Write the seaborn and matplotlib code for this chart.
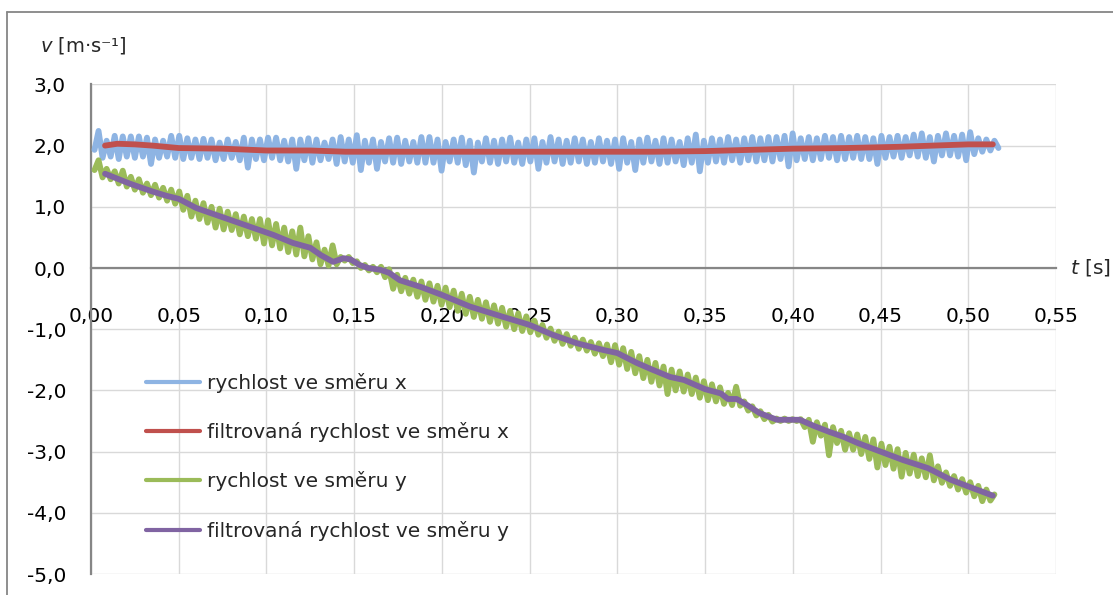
import numpy as np
import matplotlib
matplotlib.use("Agg")
import matplotlib.pyplot as plt
import seaborn as sns
from matplotlib.lines import Line2D

# Raw samples share one uniform time grid [s]
SAMPLE_START = 0.002
SAMPLE_STEP = 0.0023

# Raw velocity in x direction [m/s]
vx_raw = [
    1.93,
    2.24, 1.80, 2.08, 1.82, 2.16, 1.78, 2.15, 1.82, 2.15, 1.80, 2.15, 1.82, 2.13, 1.70, 2.10, 1.80, 2.08, 1.82, 2.16, 1.80, 2.16, 1.78,
    2.12, 1.80, 2.10, 1.78, 2.11, 1.80, 2.10, 1.76, 2.05, 1.78, 2.10, 1.80, 2.06, 1.76, 2.13, 1.64, 2.10, 1.78, 2.10, 1.76,
    2.13, 1.80, 2.13, 1.76, 2.08, 1.74, 2.10, 1.62, 2.10, 1.76, 2.12, 1.72, 2.10, 1.76, 2.05, 1.78, 2.10, 1.70, 2.14, 1.74,
    2.10, 1.72, 2.17, 1.60, 2.08, 1.72, 2.10, 1.62, 2.06, 1.74, 2.12, 1.72, 2.13, 1.70, 2.08, 1.74, 2.06, 1.72, 2.14, 1.72,
    2.14, 1.72, 2.10, 1.59, 2.06, 1.74, 2.10, 1.72, 2.13, 1.68, 2.08, 1.56, 2.05, 1.74, 2.12, 1.72, 2.08, 1.70, 2.10, 1.74,
    2.13, 1.72, 2.05, 1.70, 2.10, 1.74, 2.12, 1.62, 2.06, 1.72, 2.14, 1.74, 2.10, 1.70, 2.08, 1.72, 2.12, 1.74, 2.10, 1.70,
    2.06, 1.72, 2.12, 1.74, 2.08, 1.70, 2.10, 1.62, 2.12, 1.72, 2.06, 1.60, 2.10, 1.72, 2.13, 1.74, 2.08, 1.70, 2.12, 1.72,
    2.10, 1.74, 2.06, 1.68, 2.12, 1.72, 2.18, 1.58, 2.08, 1.72, 2.12, 1.74, 2.10, 1.72, 2.14, 1.76, 2.10, 1.72, 2.12, 1.76,
    2.14, 1.74, 2.12, 1.76, 2.14, 1.74, 2.14, 1.78, 2.16, 1.66, 2.20, 1.76, 2.12, 1.78, 2.14, 1.76, 2.12, 1.78, 2.16, 1.80,
    2.14, 1.76, 2.16, 1.78, 2.14, 1.80, 2.16, 1.78, 2.14, 1.78, 2.12, 1.70, 2.16, 1.80, 2.14, 1.82, 2.16, 1.80, 2.14, 1.84,
    2.18, 1.82, 2.20, 1.80, 2.14, 1.74, 2.16, 1.84, 2.20, 1.84, 2.16, 1.82, 2.18, 1.76, 2.22, 1.86, 2.12, 1.90, 2.10, 1.92,
    2.08, 1.96,
]

# Raw velocity in y direction [m/s]
vy_raw = [
    1.60, 1.76, 1.48, 1.62, 1.45, 1.58, 1.38, 1.59, 1.33, 1.49,
    1.28, 1.45, 1.23, 1.38, 1.19, 1.36, 1.15, 1.31, 1.10, 1.28,
    1.05, 1.25, 0.95, 1.18, 0.84, 1.10, 0.80, 1.06, 0.74, 1.00,
    0.66, 0.97, 0.63, 0.92, 0.62, 0.88, 0.55, 0.84, 0.52, 0.80,
    0.48, 0.80, 0.40, 0.78, 0.37, 0.72, 0.32, 0.66, 0.26, 0.60,
    0.22, 0.66, 0.19, 0.52, 0.14, 0.42, 0.06, 0.30, 0.04, 0.37,
    0.06, 0.18, 0.12, 0.18, 0.08, 0.11, 0.00, 0.05, -0.04, 0.02,
    -0.07, 0.02, -0.15, -0.02, -0.34, -0.11, -0.38, -0.16, -0.42, -0.19,
    -0.47, -0.22, -0.52, -0.25, -0.55, -0.29, -0.60, -0.32, -0.64, -0.37,
    -0.70, -0.42, -0.75, -0.47, -0.80, -0.52, -0.83, -0.56, -0.88, -0.61,
    -0.91, -0.65, -0.96, -0.70, -1.00, -0.74, -1.03, -0.79, -1.05, -0.86,
    -1.09, -0.93, -1.14, -0.99, -1.19, -1.04, -1.24, -1.08, -1.27, -1.14,
    -1.32, -1.17, -1.35, -1.21, -1.40, -1.23, -1.44, -1.25, -1.54, -1.26,
    -1.58, -1.31, -1.65, -1.37, -1.72, -1.44, -1.80, -1.50, -1.86, -1.55,
    -1.92, -1.61, -2.06, -1.66, -2.00, -1.69, -2.02, -1.74, -2.06, -1.79,
    -2.12, -1.85, -2.16, -1.90, -2.18, -1.95, -2.22, -2.04, -2.24, -1.94,
    -2.25, -2.18, -2.33, -2.26, -2.41, -2.34, -2.47, -2.40, -2.51, -2.46,
    -2.50, -2.46, -2.50, -2.47, -2.50, -2.47, -2.60, -2.48, -2.84, -2.52,
    -2.74, -2.56, -3.06, -2.60, -2.86, -2.66, -2.97, -2.70, -2.97, -2.72,
    -3.04, -2.76, -3.12, -2.80, -3.26, -2.87, -3.22, -2.92, -3.28, -2.96,
    -3.41, -3.02, -3.36, -3.05, -3.40, -3.11, -3.42, -3.06, -3.47, -3.24,
    -3.51, -3.34, -3.56, -3.40, -3.62, -3.45, -3.67, -3.50, -3.73, -3.56,
    -3.81, -3.62, -3.80, -3.70,
]

# Filtered velocity in x direction
vx_filt_t = [0.008, 0.015, 0.025, 0.035, 0.050, 0.075, 0.100, 0.125, 0.145, 0.200,
             0.250, 0.290, 0.320, 0.350, 0.375, 0.400, 0.430, 0.460, 0.480, 0.500, 0.514]
vx_filt = [2.00, 2.03, 2.02, 2.00, 1.96, 1.95, 1.92, 1.92, 1.90, 1.90,
           1.90, 1.90, 1.90, 1.91, 1.93, 1.95, 1.96, 1.98, 2.00, 2.02, 2.02]

# Filtered velocity in y direction
vy_filt_t = [0.008, 0.022, 0.035, 0.043, 0.050, 0.060, 0.074, 0.085, 0.096, 0.104,
             0.115, 0.125, 0.131, 0.138, 0.144, 0.148, 0.153, 0.158, 0.165, 0.170,
             0.176, 0.188, 0.200, 0.216, 0.235, 0.250, 0.263, 0.277, 0.292, 0.300,
             0.311, 0.319, 0.330, 0.338, 0.350, 0.359, 0.363, 0.368, 0.374, 0.381,
             0.391, 0.404, 0.412, 0.421, 0.429, 0.437, 0.450, 0.463, 0.477, 0.490,
             0.501, 0.514]
vy_filt = [1.54, 1.38, 1.25, 1.18, 1.13, 0.98, 0.84, 0.73, 0.62, 0.54,
           0.41, 0.33, 0.21, 0.10, 0.16, 0.14, 0.05, 0.00, -0.03, -0.08,
           -0.20, -0.31, -0.44, -0.63, -0.80, -0.93, -1.09, -1.23, -1.34, -1.39,
           -1.55, -1.65, -1.78, -1.83, -1.98, -2.05, -2.14, -2.14, -2.24, -2.37,
           -2.48, -2.48, -2.58, -2.68, -2.76, -2.86, -3.00, -3.14, -3.27, -3.46,
           -3.58, -3.72]

series_labels = ["rychlost ve směru x", "filtrovaná rychlost ve směru x",
                 "rychlost ve směru y", "filtrovaná rychlost ve směru y"]
series_colors = ["#8EB4E3", "#C0504D", "#9BBB59", "#8064A2"]

x_ticks = [0.00, 0.05, 0.10, 0.15, 0.20, 0.25, 0.30, 0.35, 0.40, 0.45, 0.50, 0.55]
x_tick_labels = ["0,00", "0,05", "0,10", "0,15", "0,20", "0,25", "0,30", "0,35",
                 "0,40", "0,45", "0,50", "0,55"]
y_ticks = [-5, -4, -3, -2, -1, 0, 1, 2, 3]
y_tick_labels = ["-5,0", "-4,0", "-3,0", "-2,0", "-1,0", "0,0", "1,0", "2,0", "3,0"]

sns.set_style("white")
plt.rcParams["font.family"] = ["DejaVu Sans"]
plt.rcParams["mathtext.fontset"] = "dejavusans"

W, H, DPI = 1113, 595, 100
fig = plt.figure(figsize=(W / DPI, H / DPI), dpi=DPI)
ax = fig.add_axes([91 / W, 1 - 574 / H, (1056 - 91) / W, (574 - 84.4) / H])

t_vx = SAMPLE_START + SAMPLE_STEP * np.arange(len(vx_raw))
t_vy = SAMPLE_START + SAMPLE_STEP * np.arange(len(vy_raw))

LW = 4.2
datasets = [(t_vx, vx_raw), (vx_filt_t, vx_filt), (t_vy, vy_raw), (vy_filt_t, vy_filt)]
for (tt, vv), lab, col in zip(datasets, series_labels, series_colors):
    sns.lineplot(x=np.asarray(tt), y=np.asarray(vv), ax=ax, color=col, lw=LW,
                 estimator=None, sort=False, legend=False)
    ln = ax.lines[-1]
    ln.set_solid_joinstyle("round")
    ln.set_solid_capstyle("round")

AXIS_COL = "#868686"
GRID_COL = "#D9D9D9"

ax.set_xlim(0, 0.55)
ax.set_ylim(-5, 3)
ax.set_xticks(x_ticks)
ax.set_xticklabels(x_tick_labels)
ax.set_yticks(y_ticks)
ax.set_yticklabels(y_tick_labels)
ax.grid(True, color=GRID_COL, lw=1.0)
ax.set_axisbelow(True)
for s in ["top", "right"]:
    ax.spines[s].set_visible(False)
ax.spines["bottom"].set_position(("data", 0))
for s in ["bottom", "left"]:
    ax.spines[s].set_color(AXIS_COL)
    ax.spines[s].set_linewidth(1.6)
    ax.spines[s].set_zorder(1.5)
ax.tick_params(axis="both", direction="inout", length=12, width=1.6, color=AXIS_COL,
               labelsize=14.5, labelcolor="black")
ax.tick_params(axis="x", pad=22)
ax.tick_params(axis="y", pad=12)
ax.set_xlabel("")
ax.set_ylabel("")

# axis titles: italic quantity symbol followed by the unit
fig.text(40 / W, 1 - 45 / H, r"$v$ [m·s⁻¹]", fontsize=14, ha="left", va="center")
fig.text(1070 / W, 1 - 268 / H, r"$t$ [s]", fontsize=14.5, ha="left", va="center")

# legend
handles = [Line2D([], [], color=c, lw=3.0, solid_capstyle="round") for c in series_colors]
leg = fig.legend(handles, series_labels, loc="upper left",
                 bbox_to_anchor=(146 / W, 1 - 373 / H), frameon=False,
                 fontsize=14.5, handlelength=2.7, handletextpad=0.35,
                 labelspacing=1.45, borderpad=0, borderaxespad=0)

# chart area frame
fig.add_artist(Line2D([7 / W, 7 / W], [0, 1 - 12 / H], transform=fig.transFigure,
                      color=AXIS_COL, lw=1.3))
fig.add_artist(Line2D([7 / W, 1], [1 - 12 / H, 1 - 12 / H], transform=fig.transFigure,
                      color=AXIS_COL, lw=1.3))

fig.savefig("out.png", dpi=DPI)
